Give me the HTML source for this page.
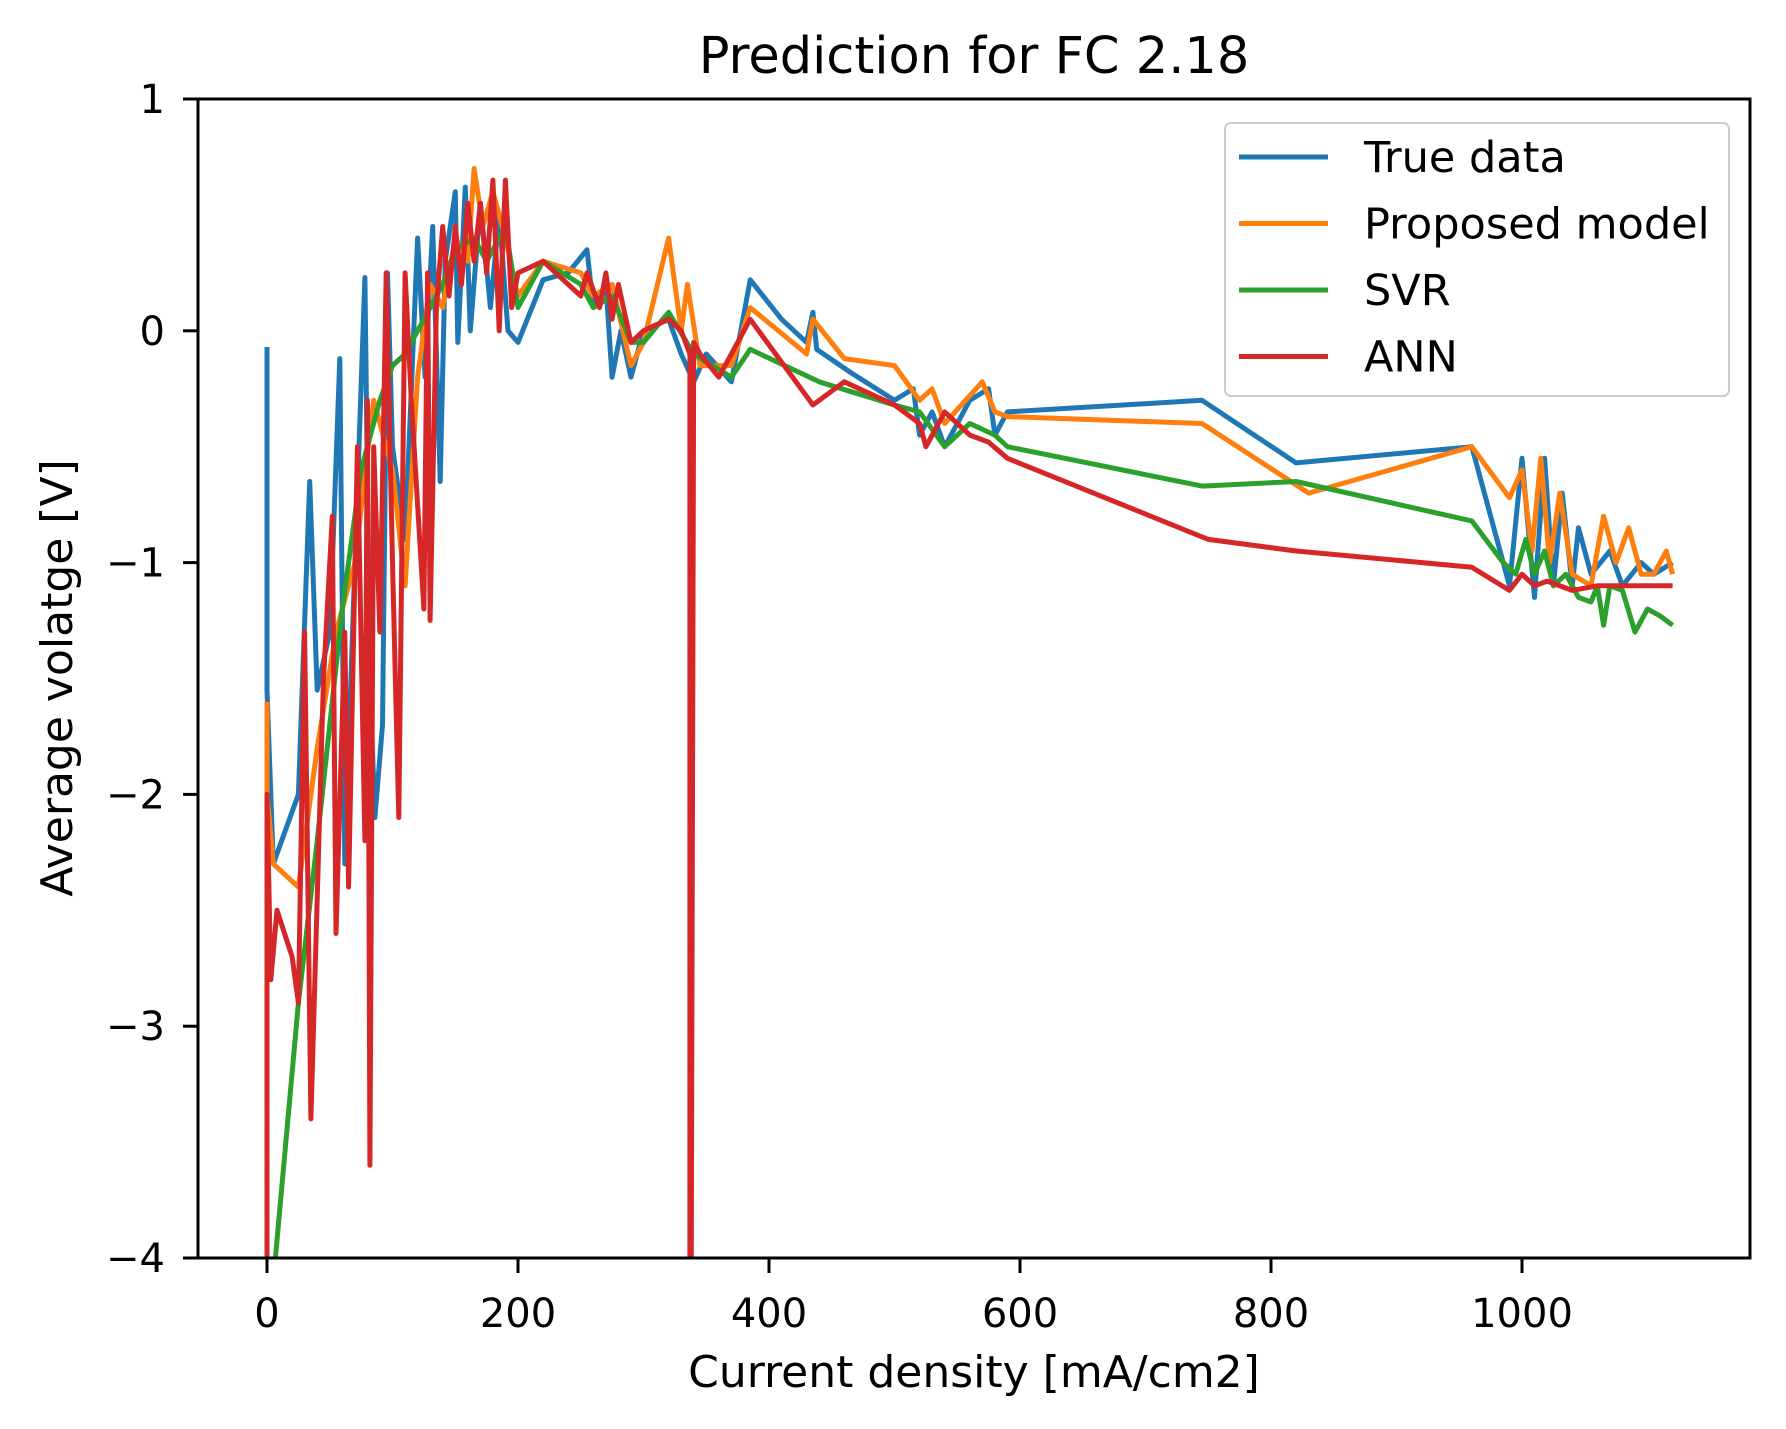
<!DOCTYPE html>
<html><head><meta charset="utf-8"><style>
html,body{margin:0;padding:0;background:#fff;}
svg{display:block;font-family:"DejaVu Sans","Liberation Sans",sans-serif;}
</style></head><body>
<svg id="chart" width="1786" height="1429" viewBox="0 0 1786 1429" xmlns="http://www.w3.org/2000/svg">
<defs><clipPath id="plotclip"><rect x="198" y="99" width="1552" height="1159"/></clipPath></defs>
<text x="974" y="73" font-size="51" text-anchor="middle" fill="#000">Prediction for FC 2.18</text>
<g id="series" clip-path="url(#plotclip)"></g>
<rect x="198" y="99" width="1552" height="1159" fill="none" stroke="#000" stroke-width="3"/>
<g id="xticks"></g><g id="yticks"></g>
<text x="974" y="1387" font-size="44" text-anchor="middle">Current density [mA/cm2]</text>
<text transform="translate(72,678) rotate(-90)" font-size="44" text-anchor="middle">Average volatge [V]</text>
<g>
<rect x="1225" y="123" width="504" height="273" rx="6" fill="#fff" fill-opacity="0.85" stroke="#ccc" stroke-width="2"/>
<g id="legend"></g>
</g>
</svg>
<script>
const xTickVals=[0,200,400,600,800,1000];
const yTickVals=[1,0,-1,-2,-3,-4];
const yTickLabels=["1","0","\u22121","\u22122","\u22123","\u22124"];
const seriesNames=["True data","Proposed model","SVR","ANN"];
const seriesColors=["#1f77b4","#ff7f0e","#2ca02c","#d62728"];
const trueX=[0,0,5,25,34,40,50,58,62,70,78,82,86,92,96,100,110,120,126,132,138,142,150,152,158,162,170,178,185,192,200,220,240,255,260,270,275,282,290,300,320,330,340,350,370,385,410,430,435,438,465,500,515,520,530,540,560,575,580,590,745,820,960,990,1000,1010,1018,1025,1032,1040,1045,1055,1070,1080,1095,1105,1120];
const trueY=[-0.07,-1.55,-2.3,-2.0,-0.65,-1.55,-1.3,-0.12,-2.3,-1.0,0.23,-1.5,-2.1,-1.7,0.25,-0.5,-0.9,0.4,-0.2,0.45,-0.65,0.3,0.6,-0.05,0.62,0.0,0.55,0.1,0.5,0.0,-0.05,0.22,0.25,0.35,0.1,0.2,-0.2,0.0,-0.2,0.0,0.05,-0.1,-0.22,-0.1,-0.22,0.22,0.05,-0.05,0.08,-0.08,-0.18,-0.3,-0.25,-0.45,-0.35,-0.5,-0.3,-0.25,-0.45,-0.35,-0.3,-0.57,-0.5,-1.1,-0.55,-1.15,-0.55,-1.1,-0.7,-1.1,-0.85,-1.05,-0.95,-1.1,-1.0,-1.05,-1.0];
const propX=[0,0,5,25,40,55,70,85,100,110,120,130,140,150,160,165,172,180,190,200,220,250,260,275,290,300,320,330,335,345,370,385,430,435,460,500,520,530,540,560,570,580,590,745,830,960,990,1000,1008,1015,1022,1030,1040,1055,1065,1075,1085,1095,1105,1115,1120];
const propY=[-1.6,-2.0,-2.3,-2.4,-1.8,-1.3,-1.0,-0.3,-0.6,-1.1,-0.2,0.2,0.1,0.4,0.3,0.7,0.45,0.6,0.4,0.15,0.3,0.25,0.15,0.2,-0.15,-0.05,0.4,0.0,0.2,-0.15,-0.15,0.1,-0.1,0.05,-0.12,-0.15,-0.3,-0.25,-0.4,-0.28,-0.22,-0.35,-0.37,-0.4,-0.7,-0.5,-0.72,-0.6,-0.95,-0.55,-1.0,-0.7,-1.05,-1.1,-0.8,-1.0,-0.85,-1.05,-1.05,-0.95,-1.05];
const svrX=[5,25,40,60,75,90,100,110,120,140,150,165,175,190,200,220,250,260,275,290,300,320,340,370,385,440,500,520,540,560,580,590,745,820,960,985,995,1003,1010,1018,1025,1035,1045,1055,1060,1065,1070,1080,1090,1100,1110,1120];
const svrY=[-4.1,-2.9,-2.2,-1.2,-0.6,-0.3,-0.15,-0.1,0.0,0.2,0.35,0.4,0.3,0.45,0.1,0.3,0.2,0.1,0.15,-0.05,-0.05,0.08,-0.1,-0.2,-0.08,-0.22,-0.32,-0.35,-0.5,-0.4,-0.45,-0.5,-0.67,-0.65,-0.82,-1.0,-1.05,-0.9,-1.05,-0.95,-1.1,-1.05,-1.15,-1.17,-1.1,-1.27,-1.1,-1.12,-1.3,-1.2,-1.23,-1.27];
const annX=[0,0,3,8,20,25,30,35,45,52,55,62,65,72,78,80,82,85,90,95,100,105,110,115,125,128,130,135,140,145,150,155,160,165,170,175,180,185,190,195,200,220,250,255,265,270,275,280,290,300,320,330,337,337,338,340,345,360,385,435,460,500,520,525,540,560,575,590,750,820,960,990,1000,1010,1020,1040,1060,1080,1100,1120];
const annY=[-4.0,-2.0,-2.8,-2.5,-2.7,-2.9,-1.3,-3.4,-1.5,-0.8,-2.6,-1.3,-2.4,-0.5,-2.2,-0.3,-3.6,-0.5,-1.3,0.25,-1.0,-2.1,0.25,-0.3,-1.2,0.25,-1.25,0.1,0.45,0.15,0.45,0.2,0.55,0.3,0.55,0.25,0.65,0.0,0.65,0.1,0.25,0.3,0.15,0.25,0.1,0.25,0.05,0.2,-0.05,0.0,0.05,0.0,-0.1,-4.1,-4.1,-0.05,-0.1,-0.2,0.05,-0.32,-0.22,-0.32,-0.4,-0.5,-0.35,-0.45,-0.48,-0.55,-0.9,-0.95,-1.02,-1.12,-1.05,-1.1,-1.08,-1.12,-1.1,-1.1,-1.1,-1.1];

const NS="http://www.w3.org/2000/svg";
function xs(v){return 267+(v/1000)*(1522-267);}
function ys(v){return 99+(1-v)*(1258-99)/5;}
function mk(tag,attrs,parent){const e=document.createElementNS(NS,tag);for(const k in attrs)e.setAttribute(k,attrs[k]);parent.appendChild(e);return e;}

const xg=document.getElementById('xticks');
xTickVals.forEach(v=>{
  const t=mk('line',{x1:xs(v),x2:xs(v),y1:1258,y2:1273,stroke:'#000','stroke-width':3},xg);
  
  
  const l=mk('text',{x:xs(v),y:1327,'font-size':40,'text-anchor':'middle'},xg);
  
  
  l.textContent=String(v);
});
const yg=document.getElementById('yticks');
yTickVals.forEach((v,i)=>{
  const t=mk('line',{x1:183,x2:198,y1:ys(v),y2:ys(v),stroke:'#000','stroke-width':3},yg);
  
  
  const l=mk('text',{x:165,y:ys(v)+14,'font-size':40,'text-anchor':'end'},yg);
  
  
  l.textContent=yTickLabels[i];
});

const sg=document.getElementById('series');
const data=[[trueX,trueY],[propX,propY],[svrX,svrY],[annX,annY]];
const snames=['true-data-line','proposed-model-line','svr-line','ann-line'];
data.forEach((d,i)=>{
  const pts=d[0].map((x,j)=>xs(x).toFixed(1)+','+ys(d[1][j]).toFixed(1)).join(' ');
  const p=mk('polyline',{points:pts,fill:'none',stroke:seriesColors[i],'stroke-width':5,'stroke-linejoin':'round'},sg);
  
  
});

const lg=document.getElementById('legend');
seriesNames.forEach((n,i)=>{
  const y=157+i*66.5;
  const ln=mk('line',{x1:1239,x2:1328,y1:y,y2:y,stroke:seriesColors[i],'stroke-width':5},lg);
  
  
  const t=mk('text',{x:1364,y:y+15,'font-size':43},lg);
  
  
  t.textContent=n;
});
</script>
</body></html>
